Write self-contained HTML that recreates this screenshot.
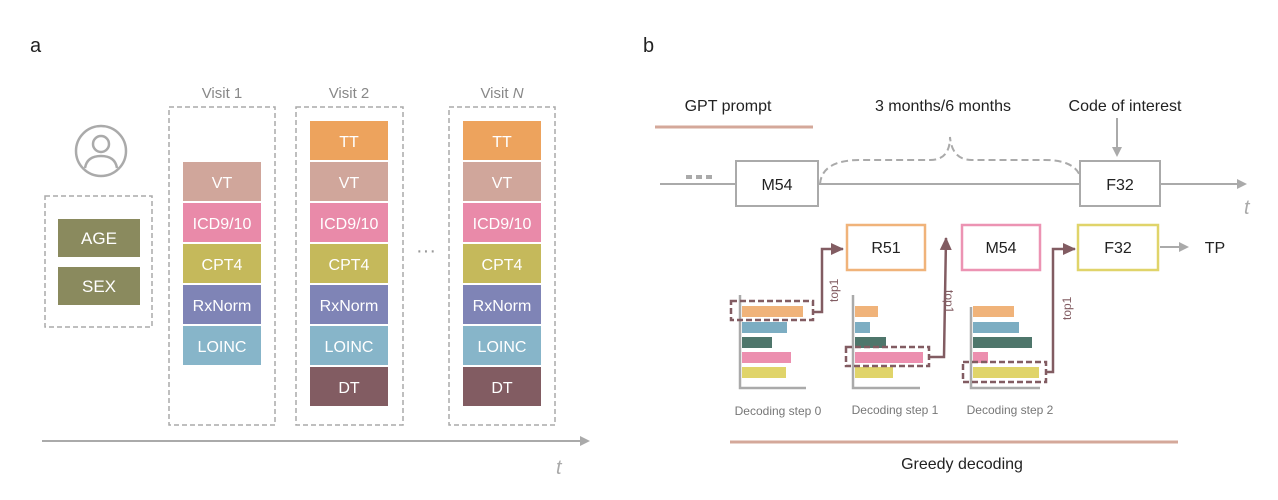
<!DOCTYPE html>
<html><head><style>
body{margin:0;background:#fff;}
svg{display:block;font-family:"Liberation Sans",Arial,sans-serif;}
</style></head><body>
<svg width="1278" height="500" viewBox="0 0 1278 500" xmlns="http://www.w3.org/2000/svg">
<defs>
<marker id="ag" markerWidth="10" markerHeight="10" refX="8" refY="5" orient="auto" markerUnits="userSpaceOnUse"><path d="M0,0 L10,5 L0,10 z" fill="#aaa"/></marker>
<marker id="am" markerWidth="14" markerHeight="14" refX="12" refY="7" orient="auto" markerUnits="userSpaceOnUse"><path d="M0,1 L13,7 L0,13 z" fill="#825c62"/></marker>
</defs>
<text x="30" y="52" font-size="20" fill="#222">a</text>
<text x="643" y="52" font-size="20" fill="#222">b</text>

<!-- person icon -->
<circle cx="101" cy="151" r="25" fill="none" stroke="#aaa" stroke-width="2.5"/>
<circle cx="101" cy="144" r="8" fill="none" stroke="#aaa" stroke-width="2.5"/>
<path d="M85,168 Q87,156 101,156 Q115,156 117,168" fill="none" stroke="#aaa" stroke-width="2.5"/>
<rect x="45" y="196" width="107" height="131" fill="none" stroke="#aaa" stroke-width="1.5" stroke-dasharray="5,3"/>
<g font-size="17" fill="#fff" text-anchor="middle">
<rect x="58" y="219" width="82" height="38" fill="#8a8a5e"/><text x="99" y="244">AGE</text>
<rect x="58" y="267" width="82" height="38" fill="#8a8a5e"/><text x="99" y="292">SEX</text>
</g>

<g font-size="15" fill="#888" text-anchor="middle">
<text x="222" y="98">Visit 1</text><text x="349" y="98">Visit 2</text><text x="502" y="98">Visit <tspan font-style="italic">N</tspan></text>
</g>
<g fill="none" stroke="#aaa" stroke-width="1.5" stroke-dasharray="5,3">
<rect x="169" y="107" width="106" height="318"/>
<rect x="296" y="107" width="107" height="318"/>
<rect x="449" y="107" width="106" height="318"/>
</g>
<text x="426" y="257" font-size="20" fill="#999" text-anchor="middle">···</text>
<g font-size="16" fill="#fff" text-anchor="middle">
<!-- visit1 -->
<rect x="183" y="162" width="78" height="39" fill="#d0a69b"/><text x="222" y="188">VT</text>
<rect x="183" y="203" width="78" height="39" fill="#e98aa9"/><text x="222" y="229">ICD9/10</text>
<rect x="183" y="244" width="78" height="39" fill="#c5b95b"/><text x="222" y="270">CPT4</text>
<rect x="183" y="285" width="78" height="39" fill="#7f84b6"/><text x="222" y="311">RxNorm</text>
<rect x="183" y="326" width="78" height="39" fill="#87b5c9"/><text x="222" y="352">LOINC</text>
<!-- visit2 -->
<rect x="310" y="121" width="78" height="39" fill="#eda35d"/><text x="349" y="147">TT</text>
<rect x="310" y="162" width="78" height="39" fill="#d0a69b"/><text x="349" y="188">VT</text>
<rect x="310" y="203" width="78" height="39" fill="#e98aa9"/><text x="349" y="229">ICD9/10</text>
<rect x="310" y="244" width="78" height="39" fill="#c5b95b"/><text x="349" y="270">CPT4</text>
<rect x="310" y="285" width="78" height="39" fill="#7f84b6"/><text x="349" y="311">RxNorm</text>
<rect x="310" y="326" width="78" height="39" fill="#87b5c9"/><text x="349" y="352">LOINC</text>
<rect x="310" y="367" width="78" height="39" fill="#825c62"/><text x="349" y="393">DT</text>
<!-- visitN -->
<rect x="463" y="121" width="78" height="39" fill="#eda35d"/><text x="502" y="147">TT</text>
<rect x="463" y="162" width="78" height="39" fill="#d0a69b"/><text x="502" y="188">VT</text>
<rect x="463" y="203" width="78" height="39" fill="#e98aa9"/><text x="502" y="229">ICD9/10</text>
<rect x="463" y="244" width="78" height="39" fill="#c5b95b"/><text x="502" y="270">CPT4</text>
<rect x="463" y="285" width="78" height="39" fill="#7f84b6"/><text x="502" y="311">RxNorm</text>
<rect x="463" y="326" width="78" height="39" fill="#87b5c9"/><text x="502" y="352">LOINC</text>
<rect x="463" y="367" width="78" height="39" fill="#825c62"/><text x="502" y="393">DT</text>
</g>
<line x1="42" y1="441" x2="588" y2="441" stroke="#aaa" stroke-width="2" marker-end="url(#ag)"/>
<text x="556" y="474" font-size="20" font-style="italic" fill="#aaa">t</text>

<!-- panel b -->
<g font-size="16" fill="#222" text-anchor="middle">
<text x="728" y="111">GPT prompt</text>
<text x="943" y="111">3 months/6 months</text>
<text x="1125" y="111">Code of interest</text>
</g>
<line x1="655" y1="127" x2="813" y2="127" stroke="#d4a89a" stroke-width="3"/>
<line x1="1117" y1="118" x2="1117" y2="155" stroke="#aaa" stroke-width="2" marker-end="url(#ag)"/>
<line x1="660" y1="184" x2="1245" y2="184" stroke="#aaa" stroke-width="2" marker-end="url(#ag)"/>
<line x1="686" y1="177" x2="714" y2="177" stroke="#aaa" stroke-width="4" stroke-dasharray="6,4"/>
<path d="M820,184 Q822,160 860,160 L930,160 Q950,160 950,137 Q952,160 972,160 L1045,160 Q1080,160 1082,184" fill="none" stroke="#aaa" stroke-width="2" stroke-dasharray="7,4"/>
<rect x="736" y="161" width="82" height="45" fill="#fff" stroke="#aaa" stroke-width="2"/>
<rect x="1080" y="161" width="80" height="45" fill="#fff" stroke="#aaa" stroke-width="2"/>
<text x="777" y="190" font-size="16" text-anchor="middle" fill="#222">M54</text>
<text x="1120" y="190" font-size="16" text-anchor="middle" fill="#222">F32</text>
<text x="1244" y="214" font-size="20" font-style="italic" fill="#aaa">t</text>

<rect x="847" y="225" width="78" height="45" fill="#fff" stroke="#f0b37a" stroke-width="2.5"/>
<rect x="962" y="225" width="78" height="45" fill="#fff" stroke="#ec93b3" stroke-width="2.5"/>
<rect x="1078" y="225" width="80" height="45" fill="#fff" stroke="#e0d46a" stroke-width="2.5"/>
<g font-size="16" text-anchor="middle" fill="#222">
<text x="886" y="253">R51</text><text x="1001" y="253">M54</text><text x="1118" y="253">F32</text>
<text x="1215" y="253">TP</text>
</g>
<line x1="1160" y1="247" x2="1187" y2="247" stroke="#aaa" stroke-width="2" marker-end="url(#ag)"/>

<!-- charts -->
<g stroke="#aaa" stroke-width="2.5" fill="none">
<path d="M740,295 V388 H806"/>
<path d="M853,295 V388 H920"/>
<path d="M971,307 V388 H1040"/>
</g>
<g>
<rect x="742" y="306" width="61" height="11" fill="#f0b37a"/>
<rect x="742" y="322" width="45" height="11" fill="#7cadc2"/>
<rect x="742" y="337" width="30" height="11" fill="#4e766b"/>
<rect x="742" y="352" width="49" height="11" fill="#ec8faf"/>
<rect x="742" y="367" width="44" height="11" fill="#e0d46a"/>
<rect x="855" y="306" width="23" height="11" fill="#f0b37a"/>
<rect x="855" y="322" width="15" height="11" fill="#7cadc2"/>
<rect x="855" y="337" width="31" height="11" fill="#4e766b"/>
<rect x="855" y="352" width="68" height="11" fill="#ec8faf"/>
<rect x="855" y="367" width="38" height="11" fill="#e0d46a"/>
<rect x="973" y="306" width="41" height="11" fill="#f0b37a"/>
<rect x="973" y="322" width="46" height="11" fill="#7cadc2"/>
<rect x="973" y="337" width="59" height="11" fill="#4e766b"/>
<rect x="973" y="352" width="15" height="11" fill="#ec8faf"/>
<rect x="973" y="367" width="66" height="11" fill="#e0d46a"/>
</g>
<g fill="none" stroke="#825c62" stroke-width="2.5" stroke-dasharray="6,3">
<rect x="731" y="301" width="82" height="19"/>
<rect x="846" y="347" width="83" height="19"/>
<rect x="963" y="362" width="83" height="20"/>
</g>
<g fill="none" stroke="#825c62" stroke-width="2.5">
<path d="M813,312 H822 V249 H843" marker-end="url(#am)"/>
<path d="M929,357 H944 L946,238" marker-end="url(#am)"/>
<path d="M1046,372 H1053 V249 H1075" marker-end="url(#am)"/>
</g>
<g font-size="12" fill="#825c62">
<text transform="translate(838,302) rotate(-90)">top1</text>
<text transform="translate(945,290) rotate(90)">top1</text>
<text transform="translate(1071,320) rotate(-90)">top1</text>
</g>
<g font-size="12" fill="#777" text-anchor="middle">
<text x="778" y="415">Decoding step 0</text>
<text x="895" y="414">Decoding step 1</text>
<text x="1010" y="414">Decoding step 2</text>
</g>
<line x1="730" y1="442" x2="1178" y2="442" stroke="#d4a89a" stroke-width="3"/>
<text x="962" y="469" font-size="16" text-anchor="middle" fill="#222">Greedy decoding</text>
</svg>
</body></html>
